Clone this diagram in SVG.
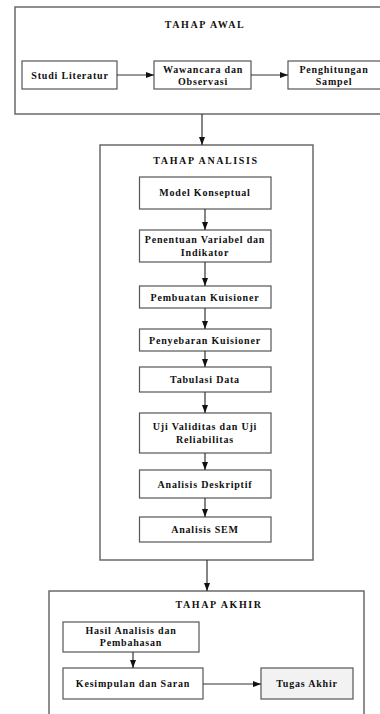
<svg xmlns="http://www.w3.org/2000/svg" width="380" height="714" viewBox="0 0 380 714">
<style>
.frame{fill:#fff;stroke:#6a6a6a;stroke-width:1.5}
.box{fill:#fff;stroke:#555;stroke-width:1.2}
.gray{fill:#f2f2f2}
text{font-family:"Liberation Serif","Times New Roman",serif;font-weight:bold;font-size:10px;fill:#111;text-anchor:middle;letter-spacing:0.8px}
.title{letter-spacing:1.6px}
.conn{stroke:#333;stroke-width:1.2;fill:none;marker-end:url(#ah)}
</style>
<defs>
<marker id="ah" markerUnits="userSpaceOnUse" markerWidth="8" markerHeight="8" viewBox="0 0 8 8" refX="8" refY="4" orient="auto">
<path d="M0,1 L8,4 L0,7 Z" fill="#111"/>
</marker>
</defs>
<rect width="380" height="714" fill="#fff"/>

<g id="tahap-awal">
<rect class="frame" x="15" y="7" width="375" height="107"/>
<text class="title" x="205" y="28">TAHAP AWAL</text>
</g>
<g id="studi-literatur">
<rect class="box" x="22" y="61" width="95" height="28"/>
<text x="70" y="78.5">Studi Literatur</text>
</g>
<g id="wawancara">
<rect class="box" x="154" y="61" width="97" height="28"/>
<text x="203" y="73">Wawancara dan</text>
<text x="203" y="85">Observasi</text>
</g>
<g id="penghitungan">
<rect class="box" x="288" y="61" width="100" height="28"/>
<text x="334" y="73">Penghitungan</text>
<text x="334" y="85">Sampel</text>
</g>

<g id="tahap-analisis">
<rect class="frame" x="100" y="145" width="213" height="415"/>
<text class="title" x="206" y="164">TAHAP ANALISIS</text>
</g>
<g id="model-konseptual">
<rect class="box" x="139.5" y="177" width="131.5" height="32"/>
<text x="205" y="196">Model Konseptual</text>
</g>
<g id="penentuan">
<rect class="box" x="139.5" y="230" width="131.5" height="32"/>
<text x="205" y="243">Penentuan Variabel dan</text>
<text x="205" y="256">Indikator</text>
</g>
<g id="pembuatan">
<rect class="box" x="139.5" y="286" width="131.5" height="22"/>
<text x="205" y="300.5">Pembuatan Kuisioner</text>
</g>
<g id="penyebaran">
<rect class="box" x="139.5" y="329" width="131.5" height="22"/>
<text x="205" y="343.5">Penyebaran Kuisioner</text>
</g>
<g id="tabulasi">
<rect class="box" x="139.5" y="367" width="131.5" height="25"/>
<text x="205" y="383">Tabulasi Data</text>
</g>
<g id="uji">
<rect class="box" x="139.5" y="413" width="131.5" height="40"/>
<text x="205" y="430">Uji Validitas dan Uji</text>
<text x="205" y="443">Reliabilitas</text>
</g>
<g id="deskriptif">
<rect class="box" x="139.5" y="470" width="131.5" height="28"/>
<text x="205" y="487.5">Analisis Deskriptif</text>
</g>
<g id="sem">
<rect class="box" x="139.5" y="517" width="131.5" height="25"/>
<text x="205" y="533">Analisis SEM</text>
</g>

<g id="tahap-akhir">
<rect class="frame" x="49" y="591" width="315" height="140"/>
<text class="title" x="219" y="608">TAHAP AKHIR</text>
</g>
<g id="hasil">
<rect class="box" x="63" y="622" width="136" height="30"/>
<text x="131" y="634">Hasil Analisis dan</text>
<text x="131" y="646">Pembahasan</text>
</g>
<g id="kesimpulan">
<rect class="box" x="63" y="668" width="140" height="31"/>
<text x="133" y="687">Kesimpulan dan Saran</text>
</g>
<g id="tugas-akhir">
<rect class="box gray" x="261" y="668" width="92" height="31"/>
<text x="307" y="687">Tugas Akhir</text>
</g>

<g id="connectors">
<line class="conn" x1="117" y1="75" x2="154" y2="75"/>
<line class="conn" x1="251" y1="75" x2="288" y2="75"/>
<line class="conn" x1="202" y1="114" x2="202" y2="145"/>
<line class="conn" x1="205" y1="209" x2="205" y2="230"/>
<line class="conn" x1="205" y1="262" x2="205" y2="286"/>
<line class="conn" x1="205" y1="308" x2="205" y2="329"/>
<line class="conn" x1="205" y1="351" x2="205" y2="367"/>
<line class="conn" x1="205" y1="392" x2="205" y2="413"/>
<line class="conn" x1="205" y1="453" x2="205" y2="470"/>
<line class="conn" x1="205" y1="498" x2="205" y2="517"/>
<line class="conn" x1="207" y1="560" x2="207" y2="591"/>
<line class="conn" x1="133" y1="652" x2="133" y2="668"/>
<line class="conn" x1="203" y1="684" x2="261" y2="684"/>
</g>
</svg>
